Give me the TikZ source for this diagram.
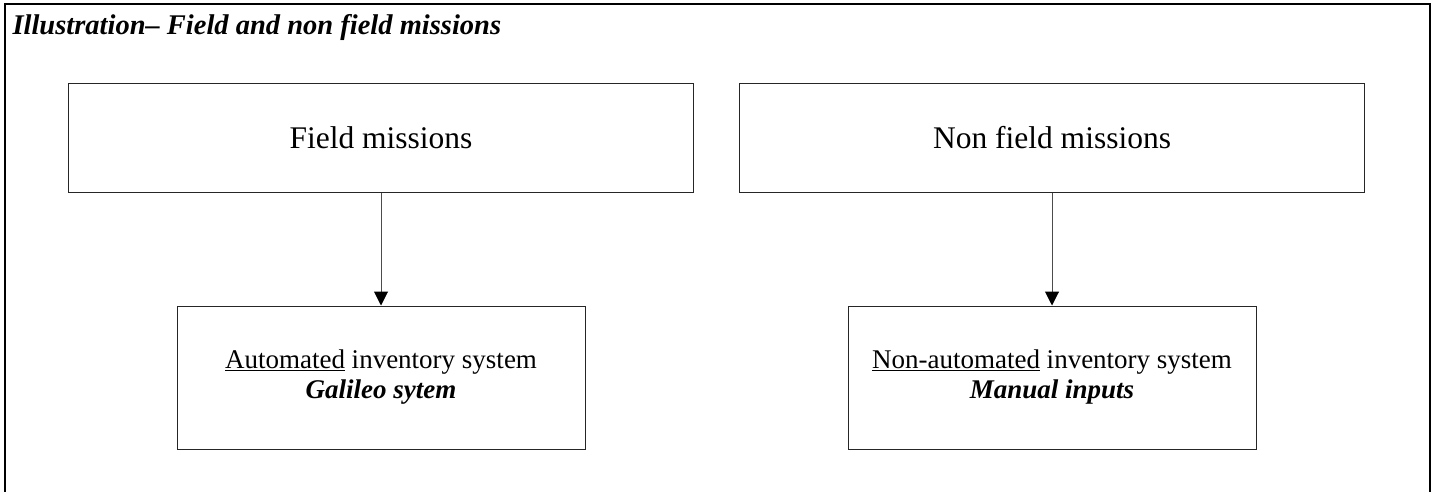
\documentclass[tikz,border=0pt]{standalone}
\usepackage{fontspec}
\setmainfont{Liberation Serif}
\usetikzlibrary{arrows.meta}

\begin{document}
\begin{tikzpicture}[x=1pt,y=-1pt,
  mission/.style={draw=black!85,line width=1pt,minimum width=625pt,minimum height=108pt,inner sep=0pt,font=\fontsize{31.5}{36}\selectfont},
  inventory/.style={draw=black!85,line width=1pt,minimum width=408pt,minimum height=143pt,inner sep=0pt,align=center,font=\fontsize{27}{30}\selectfont},
  flow/.style={draw=black!70,line width=1pt,-{Triangle[length=14pt,width=14pt,color=black]}}]
\useasboundingbox (0,0) rectangle (1437,492);
% outer frame, open at the bottom
\draw [line width=2pt] (5,492) -- (5,4) -- (1430,4) -- (1430,492);
\node (title) [anchor=base west,font=\fontsize{28.5}{32}\selectfont\bfseries\itshape] at (9,35) {Illustration-- Field and non field missions};
% upper boxes
\node (field) [mission] at (381,138) {Field missions};
\node (nonfield) [mission] at (1052,138) {Non field missions};
% lower boxes
\node (auto) [inventory] at (381,377.5) {\underline{Automated} inventory system\\\textbf{\textit{Galileo sytem}}};
\node (manual) [inventory] at (1052,377.5) {\underline{Non-automated} inventory system\\\textbf{\textit{Manual inputs}}};
% connectors
\draw [flow] (field) -- (auto);
\draw [flow] (nonfield) -- (manual);
\end{tikzpicture}
\end{document}
